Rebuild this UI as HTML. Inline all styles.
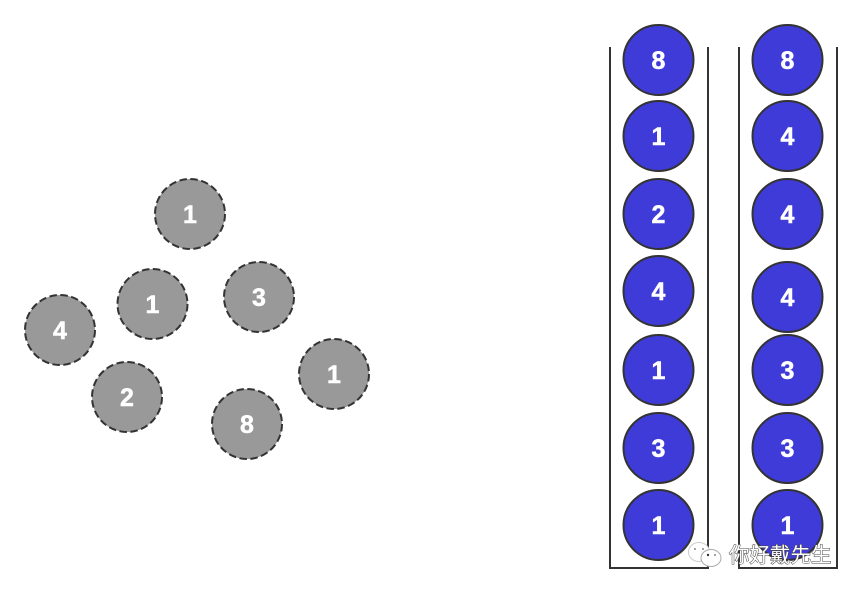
<!DOCTYPE html>
<html>
<head>
<meta charset="utf-8">
<style>
html,body{margin:0;padding:0;background:#fff;width:861px;height:593px;overflow:hidden}
svg{display:block}
.d{font-family:"Liberation Sans",sans-serif;font-weight:bold;font-size:25px;fill:#fff;stroke:#fff;stroke-width:.5;text-anchor:middle}
.g{fill:#999;stroke:#333;stroke-width:2;stroke-dasharray:7.500 3.500}
.b{fill:#3f3bd8;stroke:#333;stroke-width:2}
.w{font-family:"Liberation Sans","Noto Sans CJK SC",sans-serif;font-size:20.5px;fill:#fff;stroke:#444;stroke-width:1;paint-order:stroke}
</style>
</head>
<body>
<svg width="861" height="593" viewBox="0 0 861 593" xmlns="http://www.w3.org/2000/svg">
<g fill="none" stroke="#333" stroke-width="2">
<path d="M610 47V568H708V47"/>
<path d="M739 47V568H837V47"/>
</g>
<g>
<circle class="g" cx="190" cy="214" r="35"/><text class="d" x="190" y="223">1</text>
<circle class="g" cx="152.500" cy="304" r="35"/><text class="d" x="152.500" y="313">1</text>
<circle class="g" cx="259" cy="297" r="35"/><text class="d" x="259" y="306">3</text>
<circle class="g" cx="60" cy="330" r="35"/><text class="d" x="60" y="339">4</text>
<circle class="g" cx="127" cy="397" r="35"/><text class="d" x="127" y="406">2</text>
<circle class="g" cx="334" cy="374" r="35"/><text class="d" x="334" y="383">1</text>
<circle class="g" cx="247" cy="424" r="35"/><text class="d" x="247" y="433">8</text>
</g>
<g>
<circle class="b" cx="658.500" cy="60" r="35"/><text class="d" x="658.500" y="69">8</text>
<circle class="b" cx="658.500" cy="136" r="35"/><text class="d" x="658.500" y="145">1</text>
<circle class="b" cx="658.500" cy="214" r="35"/><text class="d" x="658.500" y="223">2</text>
<circle class="b" cx="658.500" cy="291" r="35"/><text class="d" x="658.500" y="300">4</text>
<circle class="b" cx="658.500" cy="370" r="35"/><text class="d" x="658.500" y="379">1</text>
<circle class="b" cx="658.500" cy="448" r="35"/><text class="d" x="658.500" y="457">3</text>
<circle class="b" cx="658.500" cy="525" r="35"/><text class="d" x="658.500" y="534">1</text>
<circle class="b" cx="787.500" cy="60" r="35"/><text class="d" x="787.500" y="69">8</text>
<circle class="b" cx="787.500" cy="136" r="35"/><text class="d" x="787.500" y="145">4</text>
<circle class="b" cx="787.500" cy="214" r="35"/><text class="d" x="787.500" y="223">4</text>
<circle class="b" cx="787.500" cy="297" r="35"/><text class="d" x="787.500" y="306">4</text>
<circle class="b" cx="787.500" cy="370" r="35"/><text class="d" x="787.500" y="379">3</text>
<circle class="b" cx="787.500" cy="448" r="35"/><text class="d" x="787.500" y="457">3</text>
<circle class="b" cx="787.500" cy="525" r="35"/><text class="d" x="787.500" y="534">1</text>
</g>
<g>
<ellipse cx="699" cy="552" rx="10.500" ry="9.500" fill="#fff" stroke="#ccc" stroke-width="1"/>
<ellipse cx="711" cy="558" rx="10" ry="8.500" fill="#fff" stroke="#aaa" stroke-width="1"/>
<circle cx="695" cy="549" r="1" fill="#888"/><circle cx="703" cy="549" r="1" fill="#888"/>
<circle cx="708" cy="555" r="1.200" fill="#333"/><circle cx="715" cy="555" r="1" fill="#888"/>
</g>
<text class="w" x="729" y="562">你好戴先生</text>
</svg>
</body>
</html>
